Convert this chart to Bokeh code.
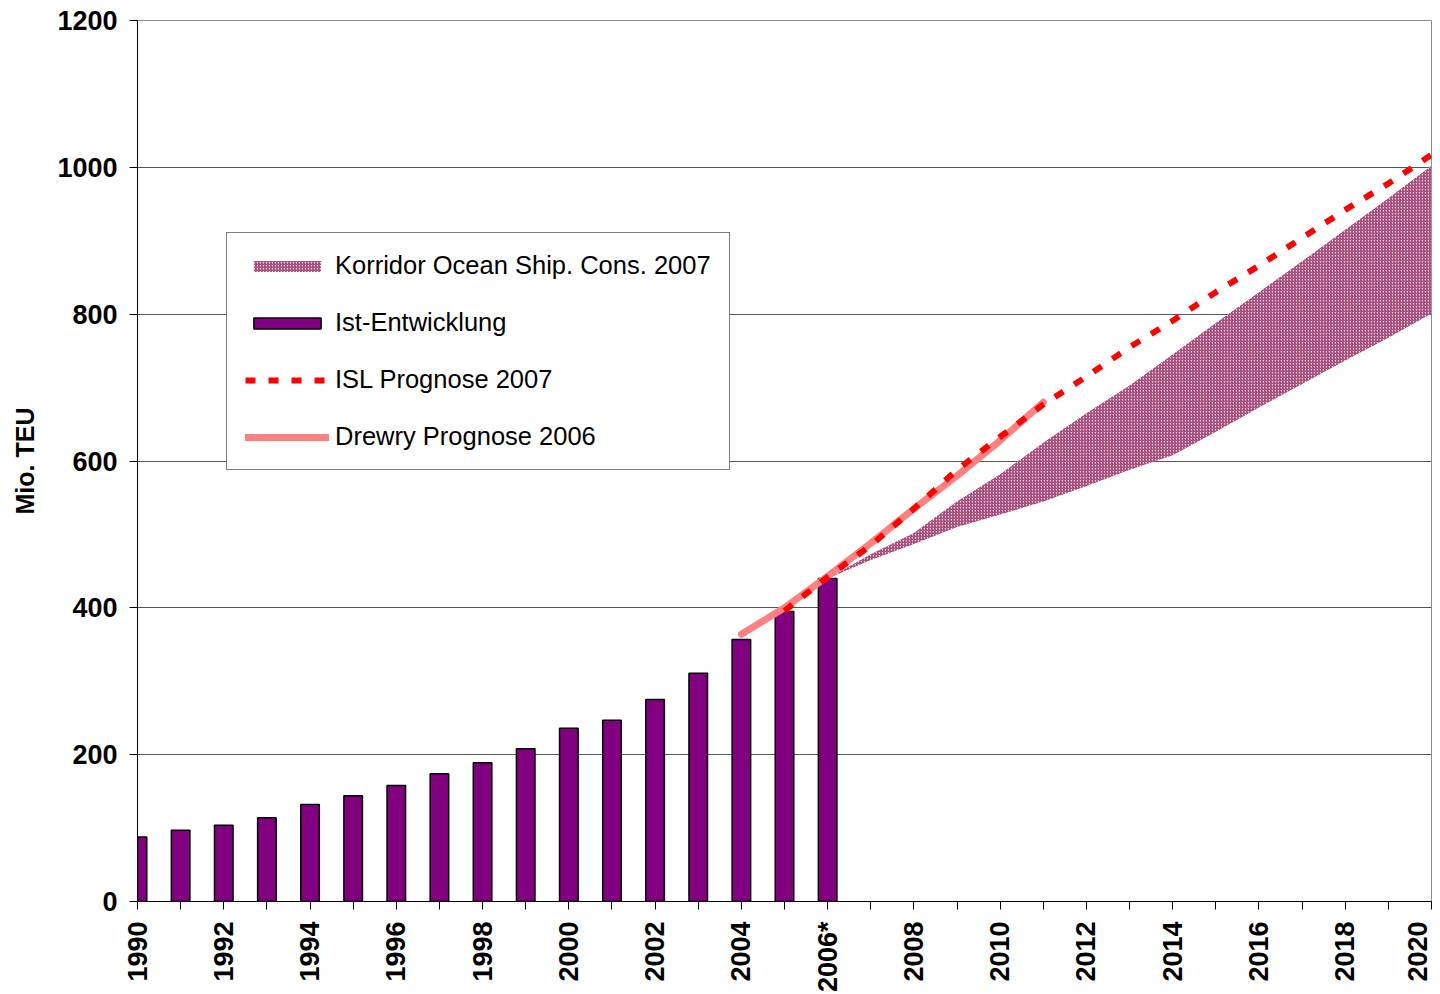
from math import pi
from bokeh.plotting import figure
from bokeh.models import FixedTicker, Legend, LegendItem
from bokeh.embed import file_html
from bokeh.resources import INLINE

# ---- data (Mio. TEU) ----
years_actual = list(range(1990, 2007))
teu_actual = [88, 97, 104, 114, 132, 144, 158, 174, 189, 208, 236, 247, 275, 311, 357, 395, 440]

drewry_years = list(range(2004, 2012))
drewry_vals = [364, 400, 443, 488, 535, 580, 628, 680]

isl_years = list(range(2005, 2021))
isl_vals = [396, 442, 485, 535, 588, 633, 677, 715, 755, 791, 830, 866, 904, 942, 978, 1017]

corr_years = list(range(2006, 2021))
corr_low = [440, 465, 487, 510, 527, 545, 566, 588, 608, 640, 673, 705, 737, 768, 801]
corr_high = [440, 473, 502, 545, 582, 625, 665, 703, 745, 788, 830, 872, 915, 958, 1002]

tick_years = list(range(1990, 2021))
tick_labels = {y: (("2006*" if y == 2006 else str(y)) if y % 2 == 0 else "") for y in tick_years}
y_ticks = [0, 200, 400, 600, 800, 1000, 1200]

FONT = "Liberation Sans"

p = figure(x_range=(1990, 2020), y_range=(0, 1200),
           frame_width=1294, frame_height=881,
           min_border_left=137, min_border_top=20, min_border_right=1, min_border_bottom=10,
           output_backend="svg", toolbar_location=None)

p.background_fill_color = "white"
p.outline_line_color = "#8c8c8c"
p.xgrid.visible = False
p.ygrid.grid_line_color = "#555555"
p.ygrid.grid_line_width = 1

# corridor band
r_corr = p.varea(x=corr_years, y1=corr_low, y2=corr_high,
                 fill_color="#f4d8e6", hatch_pattern="right_diagonal_line",
                 hatch_color="#993366", hatch_scale=3, hatch_weight=1.1)

# bars
r_bar = p.vbar(x=years_actual, top=teu_actual, width=0.43,
               fill_color="#800080", line_color="black", line_width=1.5)

# Drewry
r_drewry = p.line(drewry_years, drewry_vals, line_color="#ff8080", line_width=7,
                  line_cap="round")

# ISL
r_isl = p.line(isl_years, isl_vals, line_color="#ff0000", line_width=6,
               line_dash="10 13")

# axes
for ax in (p.xaxis[0], p.yaxis[0]):
    ax.axis_line_color = "black"
    ax.axis_line_width = 1
    ax.major_tick_line_color = "black"
    ax.major_tick_in = 0
    ax.major_tick_out = 8
    ax.minor_tick_line_color = None
    ax.major_label_text_font = FONT
    ax.major_label_text_font_style = "bold"
    ax.major_label_text_font_size = "27px"
    ax.major_label_text_color = "black"

p.xaxis.ticker = FixedTicker(ticks=tick_years)
p.xaxis.major_label_overrides = tick_labels
p.xaxis.major_label_orientation = pi / 2
p.xaxis.major_label_standoff = 12

p.yaxis.ticker = FixedTicker(ticks=y_ticks)
p.yaxis.major_label_standoff = 12
p.yaxis.axis_label = "Mio. TEU"
p.yaxis.axis_label_text_font = FONT
p.yaxis.axis_label_text_font_style = "bold"
p.yaxis.axis_label_text_font_size = "25px"
p.yaxis.axis_label_text_color = "black"
p.yaxis.axis_label_standoff = 15

legend = Legend(items=[
    LegendItem(label="Korridor Ocean Ship. Cons. 2007", renderers=[r_corr]),
    LegendItem(label="Ist-Entwicklung", renderers=[r_bar]),
    LegendItem(label="ISL Prognose 2007", renderers=[r_isl]),
    LegendItem(label="Drewry Prognose 2006", renderers=[r_drewry]),
], location=(89, 431))
legend.border_line_color = "black"
legend.border_line_width = 1
legend.background_fill_color = "white"
legend.background_fill_alpha = 1
legend.padding = 18
legend.spacing = 28
legend.margin = 0
legend.glyph_width = 84
legend.glyph_height = 14
legend.label_standoff = 6
legend.label_text_font = FONT
legend.label_text_font_size = "25.5px"
legend.label_text_color = "black"
p.add_layout(legend)

open("out.html", "w").write(file_html(p, INLINE))
